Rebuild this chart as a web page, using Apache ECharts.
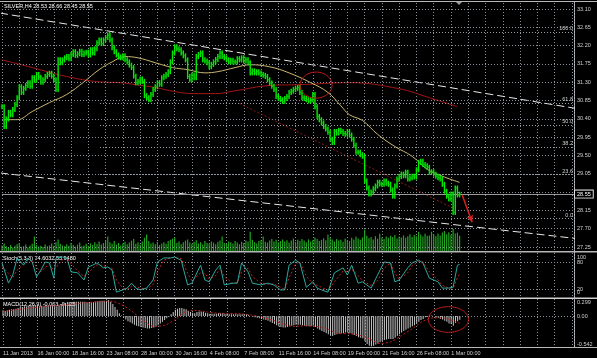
<!DOCTYPE html>
<html><head><meta charset="utf-8">
<script src="https://cdn.jsdelivr.net/npm/echarts@6/dist/echarts.min.js"></script>
<style>html,body{margin:0;padding:0;background:#000;}#c{width:597px;height:358px;}</style>
</head><body><div id="c"></div><script>
// ---- DATA ----
const closes = [
30.70,30.21,30.40,30.56,30.50,30.63,30.75,30.92,31.19,31.05,
31.15,31.22,31.29,31.20,31.41,31.35,31.49,31.42,31.30,31.36,
31.44,31.49,31.52,31.45,31.36,31.12,31.85,31.78,31.85,31.90,
31.93,31.88,31.98,32.05,31.96,32.00,32.06,31.98,32.02,32.04,
31.97,32.10,32.02,32.12,32.27,32.34,32.25,32.34,32.40,32.46,
32.34,32.15,32.05,31.97,31.92,31.90,31.95,31.85,31.80,31.72,
31.66,31.45,31.29,31.32,31.38,31.32,30.97,30.92,30.87,31.00,
31.12,31.19,31.29,31.25,31.41,31.45,31.49,31.56,31.80,32.02,
32.17,32.12,32.10,32.02,31.95,31.85,31.44,31.36,31.48,31.41,
31.93,31.98,32.02,31.85,31.82,31.78,31.68,31.74,31.80,31.86,
31.93,32.02,31.93,31.90,31.85,31.80,31.84,31.80,31.80,31.88,
31.85,31.90,31.82,31.85,31.78,31.53,31.58,31.53,31.56,31.53,
31.49,31.47,31.44,31.36,31.28,31.20,31.12,30.95,30.90,30.87,
30.83,30.90,30.95,31.05,31.08,31.12,31.15,31.17,31.05,30.92,
30.90,30.87,30.84,30.87,31.00,30.70,30.46,30.38,30.30,30.21,
30.15,30.07,29.90,29.82,30.09,30.05,30.12,30.09,30.04,30.02,
30.09,30.00,29.90,29.75,29.58,29.58,29.52,29.48,28.87,28.70,
28.55,28.60,28.68,28.75,28.84,28.80,28.79,28.87,28.82,28.79,
28.65,28.50,28.75,28.92,28.98,29.04,29.00,29.09,28.92,28.95,
28.99,28.97,29.15,29.33,29.36,29.28,29.25,29.21,29.09,29.10,
29.04,28.99,28.95,28.92,28.79,28.62,28.50,28.43,28.55,28.10,
28.70,28.53,28.55];
// tick volume, hundreds of ticks
const volumes = [
14,19,12,10,15,9,13,17,20,11, 12,16,9,14,18,36,15,11,13,10,
16,12,14,19,13,22,29,18,14,12, 17,13,20,15,11,16,21,12,14,18,
13,19,15,22,17,24,16,20,26,36, 22,18,25,16,20,14,19,23,17,21,
26,30,18,22,16,24,33,41,25,19, 21,17,23,15,19,22,18,25,28,31,
34,20,24,17,22,26,29,21,18,23, 27,19,22,16,25,20,18,24,21,17,
23,26,36,20,18,24,22,19,25,21, 17,23,20,26,24,48,28,22,19,25,
27,36,23,21,26,30,24,28,22,25, 29,24,27,21,26,31,23,28,25,30,
26,22,29,24,27,34,30,25,28,32, 27,41,33,29,24,30,26,28,23,31,
27,25,33,29,36,31,28,34,53,38, 32,35,29,37,31,43,34,30,36,33,
38,35,40,31,36,34,39,33,37,42, 35,40,37,48,41,36,43,38,39,48,
41,37,44,39,46,50,42,47,40,55, 44,46,38];
// moving averages [bar index, price]
const maFast = [[1,30.38],[7,30.38],[14,30.58],[22,30.80],[30,31.00],[38,31.31],[45,31.61],[51,31.80],[57,31.93],[63,31.90],[71,31.78],[79,31.66],[86,31.61],[94,31.53],[100,31.56],[108,31.66],[115,31.73],[124,31.68],[133,31.53],[143,31.29],[151,31.05],[157,30.72],[161,30.50],[167,30.36],[174,30.02],[182,29.72],[190,29.48],[197,29.16],[205,28.97],[212,28.84]];
const maSlow = [[0,31.85],[14,31.66],[30,31.44],[45,31.31],[55,31.29],[62,31.24],[71,31.17],[80,31.07],[89,31.02],[99,31.02],[108,31.09],[124,31.22],[138,31.24],[161,31.29],[184,31.14],[198,30.92],[211,30.70]];
const channelLine = [[110,30.78],[210,28.18]];
const upperTrend = [[-0.93,33.00],[275.7,30.57]];
const lowerTrend = [[-0.93,29.07],[275.7,27.40]];
const bidPrice = 28.55;
const fiboHigh = 32.54, fiboLow = 27.96, fiboStart = 45.4;
const fiboLevels = [0, 23.6, 38.2, 50, 61.8, 100];
const arrowPts = [[213.2,28.53],[217.8,27.86]];
const priceEllipse = [145.5, 31.23, 7.4, 0.32];
const macdEllipse = [206.7, -0.06, 9.3, 0.225];
const stochMain = [[0,78],[3,33],[5,51],[7,89],[10,73],[12,89],[14,80],[16,47],[18,62],[20,80],[22,78],[24,44],[25,89],[28,91],[30,89],[32,58],[35,56],[38,40],[40,69],[42,73],[44,78],[47,67],[49,69],[51,62],[53,13],[56,18],[58,22],[60,33],[62,22],[64,18],[67,22],[70,40],[72,80],[75,89],[78,89],[80,91],[83,84],[86,29],[88,33],[92,73],[94,40],[96,36],[99,62],[101,73],[103,29],[107,33],[109,33],[111,78],[114,58],[116,33],[120,29],[123,33],[126,29],[129,18],[131,18],[133,73],[136,84],[138,78],[141,24],[144,36],[146,22],[148,18],[151,13],[154,56],[158,67],[160,51],[162,73],[165,33],[167,36],[171,22],[174,51],[177,80],[180,78],[182,36],[184,40],[188,67],[190,78],[193,84],[195,78],[198,44],[202,36],[204,22],[207,22],[209,24],[211,73],[212,74.6]];
const stochSignal = [[0,70],[3,55],[5,45],[7,62],[10,75],[12,80],[14,84],[16,68],[18,58],[20,68],[22,74],[24,62],[25,68],[28,85],[30,90],[32,76],[35,60],[38,48],[40,56],[42,66],[44,74],[47,72],[49,68],[51,66],[53,40],[56,22],[58,19],[60,26],[62,26],[64,22],[67,20],[70,30],[72,58],[75,84],[78,89],[80,90],[83,88],[86,55],[88,38],[92,56],[94,55],[96,42],[99,50],[101,66],[103,48],[107,32],[109,34],[111,58],[114,66],[116,48],[120,32],[123,31],[126,31],[129,24],[131,19],[133,45],[136,76],[138,80],[141,48],[144,32],[146,28],[148,24],[151,17],[154,36],[158,60],[160,58],[162,64],[165,50],[167,38],[171,28],[174,38],[177,66],[180,78],[182,55],[184,42],[188,56],[190,72],[193,81],[195,80],[198,58],[202,40],[204,28],[207,22],[209,22],[211,45],[212,53.95]];
const macdHist = [
0.10,0.09,0.10,0.11,0.12,0.12,0.13,0.14,0.16,0.16,
0.17,0.17,0.18,0.18,0.19,0.19,0.19,0.18,0.18,0.18,
0.18,0.19,0.19,0.19,0.18,0.17,0.20,0.21,0.22,0.23,
0.23,0.24,0.24,0.25,0.25,0.25,0.25,0.25,0.25,0.24,
0.24,0.24,0.24,0.25,0.26,0.27,0.27,0.27,0.27,0.28,
0.25,0.21,0.16,0.11,0.05,0.01,-0.03,-0.06,-0.09,-0.11,
-0.13,-0.15,-0.17,-0.18,-0.19,-0.20,-0.21,-0.22,-0.22,-0.21,
-0.20,-0.18,-0.16,-0.13,-0.10,-0.07,-0.04,-0.01,0.03,0.07,
0.11,0.13,0.14,0.14,0.13,0.12,0.09,0.07,0.06,0.05,
0.07,0.08,0.08,0.07,0.06,0.05,0.04,0.04,0.04,0.04,
0.05,0.05,0.05,0.04,0.04,0.03,0.03,0.03,0.03,0.03,
0.03,0.03,0.03,0.03,0.02,0.00,-0.01,-0.02,-0.03,-0.04,
-0.05,-0.06,-0.07,-0.08,-0.10,-0.12,-0.14,-0.16,-0.18,-0.19,
-0.20,-0.20,-0.19,-0.18,-0.17,-0.16,-0.15,-0.15,-0.15,-0.16,
-0.17,-0.18,-0.18,-0.18,-0.17,-0.19,-0.22,-0.24,-0.26,-0.28,
-0.30,-0.32,-0.34,-0.35,-0.33,-0.32,-0.31,-0.30,-0.30,-0.29,
-0.29,-0.30,-0.31,-0.33,-0.35,-0.37,-0.38,-0.39,-0.44,-0.49,
-0.52,-0.53,-0.52,-0.50,-0.48,-0.46,-0.44,-0.42,-0.41,-0.40,
-0.40,-0.40,-0.38,-0.35,-0.32,-0.29,-0.26,-0.24,-0.22,-0.20,
-0.18,-0.16,-0.13,-0.10,-0.07,-0.05,-0.02,-0.01,0.01,0.01,
0.00,-0.02,-0.03,-0.05,-0.06,-0.08,-0.10,-0.13,-0.14,-0.17,
-0.12,-0.09,-0.063];
const macdSignal = [[0,0.08],[10,0.13],[20,0.17],[30,0.20],[40,0.24],[50,0.26],[55,0.20],[60,0.08],[65,-0.08],[70,-0.18],[75,-0.16],[80,-0.06],[85,0.08],[90,0.10],[95,0.07],[100,0.05],[110,0.04],[115,0.02],[120,-0.02],[125,-0.07],[130,-0.14],[135,-0.18],[140,-0.17],[145,-0.18],[150,-0.22],[155,-0.30],[160,-0.31],[165,-0.33],[170,-0.40],[175,-0.48],[180,-0.45],[185,-0.34],[190,-0.22],[195,-0.09],[200,-0.03],[205,-0.04],[210,-0.10],[212,-0.125]];
const timeLabels = ['11 Jan 2013','16 Jan 00:00','18 Jan 16:00','23 Jan 08:00','28 Jan 00:00','30 Jan 16:00','4 Feb 08:00','7 Feb 08:00','11 Feb 16:00','14 Feb 08:00','19 Feb 00:00','21 Feb 16:00','26 Feb 08:00','1 Mar 00:00'];
const priceTicks = [33.10,32.65,32.20,31.75,31.30,30.85,30.40,29.95,29.50,29.05,28.60,28.15,27.70,27.25];
const priceLabelTicks = [33.10,32.65,32.20,31.75,31.30,30.85,30.40,29.95,29.50,29.05,28.15,27.70,27.25];
const stochLevels = [20, 80];
const stochEdgeLabels = [[91,'100'],[13,'0']];
const stochLevelLabels = [[80,'80'],[20,'20']];
const macdLabels = [[0.245,'0.299'],[0,'0.00'],[-0.49,'-0.542']];
const titleText = 'SILVER,H4 28.53 28.66 28.45 28.55';
const stochTitle = 'Stoch(5,3,3) 74.6032 53.9480';
const macdTitle = 'MACD(12,26,9) -0.063 -0.125';

// ---- CHART ----
const FS = 5.5, FONT = 'Liberation Sans';
const labelCol = '#d0d0d0', gridCol = '#8a9099';
const barData = closes.map((c, i) => [i, i ? closes[i-1] : c, c]);
const chart = echarts.init(document.getElementById('c'), null, {devicePixelRatio: 1});

function xAxisCfg(idx, showLabels) {
  return {type:'value', gridIndex: idx, min:0, max:265, interval:8,
    axisLine:{show:false}, axisTick:{show:false},
    axisLabel: showLabels ? {show:true, hideOverlap:false, customValues: timeLabels.map((_, k) => k*16),
      formatter: v => timeLabels[Math.round(v/16)], align:'left', fontSize:FS, fontFamily:FONT, color:labelCol, margin:3} : {show:false},
    splitLine:{show:true, lineStyle:{color:gridCol, type:[1,2], width:1}}};
}
function ellipseItem(col) {
  return (params, api) => {
    const c = api.coord([api.value(0), api.value(1)]);
    const e = api.coord([api.value(0) + api.value(2), api.value(1) + api.value(3)]);
    const rx = Math.abs(e[0]-c[0]), ry = Math.abs(c[1]-e[1]);
    const pts = [];
    for (let k = 0; k < 60; k++) { const a = k/60*Math.PI*2; pts.push([c[0]+rx*Math.cos(a), c[1]+ry*Math.sin(a)]); }
    return {type:'polygon', shape:{points:pts}, style:{fill:'none', stroke:col, lineWidth:1}};
  };
}
const fiboLines = fiboLevels.map(l => {
  const p = fiboLow + (fiboHigh - fiboLow) * l / 100;
  return [{coord:[fiboStart, p]}, {coord:[265, p], label:{formatter: l.toFixed(1)}}];
});
const lab = {fontSize:FS, fontFamily:FONT, color:labelCol, margin:3, align:'left', hideOverlap:false};
function pickLabel(list, tol) { return v => (list.find(s => Math.abs(s[0]-v) < tol) || ['',''])[1]; }

chart.setOption({
  backgroundColor:'#000',
  animation:false,
  grid:[
    {left:2, top:3, width:572, height:248},
    {left:2, top:253, width:572, height:45},
    {left:2, top:299, width:572, height:48}
  ],
  xAxis:[xAxisCfg(0,false), xAxisCfg(1,false), xAxisCfg(2,true)],
  yAxis:[
    {type:'value', gridIndex:0, position:'right', min:27.152, max:33.2475, axisLine:{show:false}, axisTick:{show:false}, splitLine:{show:false},
      axisLabel:Object.assign({show:true, customValues: priceLabelTicks, formatter: v => v.toFixed(2)}, lab)},
    {type:'value', gridIndex:0, min:0, max:620, show:false},
    {type:'value', gridIndex:1, position:'right', min:0, max:100, axisLine:{show:false}, axisTick:{show:false}, splitLine:{show:false},
      axisLabel:Object.assign({show:true, customValues: stochEdgeLabels.map(s => s[0]), formatter: pickLabel(stochEdgeLabels, 0.5)}, lab)},
    {type:'value', gridIndex:2, position:'right', min:-0.542, max:0.299, axisLine:{show:false}, axisTick:{show:false}, splitLine:{show:false},
      axisLabel:Object.assign({show:true, customValues: macdLabels.map(s => s[0]), formatter: pickLabel(macdLabels, 0.01)}, lab)},
    {type:'value', gridIndex:1, position:'right', offset:0, min:0, max:100, axisLine:{show:false}, axisTick:{show:false}, splitLine:{show:false},
      axisLabel:Object.assign({show:true, customValues: stochLevelLabels.map(s => s[0]), formatter: pickLabel(stochLevelLabels, 0.5)}, lab)}
  ],
  graphic:[
    {type:'rect', shape:{x:0, y:1, width:597, height:1}, style:{fill:'#b8b8b8'}, silent:true},
    {type:'rect', shape:{x:0, y:251, width:597, height:1.5}, style:{fill:'#b8b8b8'}, silent:true},
    {type:'rect', shape:{x:0, y:297.5, width:597, height:1.5}, style:{fill:'#d0d0d0'}, silent:true},
    {type:'rect', shape:{x:0, y:347, width:597, height:1}, style:{fill:'#b8b8b8'}, silent:true},
    {type:'rect', shape:{x:574, y:1, width:1, height:347}, style:{fill:'#b8b8b8'}, silent:true},
    {type:'polygon', shape:{points:[[456,2],[462,2],[459,5]]}, style:{fill:'#9a9a9a'}, silent:true},
    {type:'text', left:4, top:3, style:{text:titleText, fill:'#ffffff', font:FS+'px '+FONT}, silent:true},
    {type:'text', left:3, top:255, style:{text:stochTitle, fill:'#ffffff', font:FS+'px '+FONT}, silent:true},
    {type:'text', left:3, top:301, style:{text:macdTitle, fill:'#ffffff', font:FS+'px '+FONT}, silent:true}
  ],
  series:[
    {type:'line', xAxisIndex:0, yAxisIndex:0, data:[], silent:true,
      markLine:{silent:true, symbol:'none', animation:false,
        lineStyle:{color:gridCol, type:[1,2], width:1}, label:{show:false},
        data: priceTicks.map(v => ({yAxis:v}))}},
    {type:'line', xAxisIndex:0, yAxisIndex:0, data:[], silent:true,
      markLine:{silent:true, symbol:'none', animation:false,
        lineStyle:{color:'#9aa0a8', type:[1,2], width:1},
        label:{show:true, position:'insideEndTop', distance:[1,0], fontSize:FS, fontFamily:FONT, color:labelCol},
        data: fiboLines}},
    {type:'bar', xAxisIndex:0, yAxisIndex:1, data: volumes.map((v,i) => [i,v]), barWidth:1.2, itemStyle:{color:'#22a322'}, silent:true},
    {type:'line', xAxisIndex:0, yAxisIndex:0, data: maSlow, smooth:0.4, showSymbol:false, lineStyle:{color:'#a31515', width:1}, silent:true},
    {type:'line', xAxisIndex:0, yAxisIndex:0, data: maFast, smooth:0.4, showSymbol:false, lineStyle:{color:'#cbb873', width:1}, silent:true},
    {type:'line', xAxisIndex:0, yAxisIndex:0, data: channelLine, showSymbol:false, lineStyle:{color:'#8a1a1a', width:1, type:[2,2]}, silent:true},
    {type:'line', xAxisIndex:0, yAxisIndex:0, data: upperTrend, clip:false, showSymbol:false, lineStyle:{color:'#e8e8e8', width:1, type:[8,4]}, silent:true},
    {type:'line', xAxisIndex:0, yAxisIndex:0, data: lowerTrend, clip:false, showSymbol:false, lineStyle:{color:'#e8e8e8', width:1, type:[8,4]}, silent:true},
    {type:'line', xAxisIndex:0, yAxisIndex:0, data:[], silent:true,
      markLine:{silent:true, symbol:'none', animation:false,
        lineStyle:{color:'#9a9a9a', type:'solid', width:1},
        label:{show:true, position:'end', distance:1, formatter: bidPrice.toFixed(2), fontSize:FS, fontFamily:FONT, color:'#ffffff', backgroundColor:'#000', borderColor:'#e0e0e0', borderWidth:1, padding:[1,2,0,2]},
        data:[{yAxis: bidPrice}]}},
    {type:'custom', xAxisIndex:0, yAxisIndex:0, data: barData, silent:true, z:5,
      renderItem:(params, api) => {
        const i = api.value(0);
        const p1 = api.coord([i, api.value(1)]), p2 = api.coord([i, api.value(2)]);
        const x = p1[0];
        const top = Math.min(p1[1], p2[1]) - 2.5, bot = Math.max(p1[1], p2[1]) + 2.5;
        const st = {stroke:'#00f000', lineWidth:1.4};
        const st2 = {stroke:'#00c800', lineWidth:1};
        return {type:'group', children:[
          {type:'line', shape:{x1:x, y1:top, x2:x, y2:bot}, style:st},
          {type:'line', shape:{x1:x-1.2, y1:p1[1], x2:x, y2:p1[1]}, style:st2},
          {type:'line', shape:{x1:x, y1:p2[1], x2:x+1.2, y2:p2[1]}, style:st2}
        ]};
      }},
    {type:'custom', xAxisIndex:0, yAxisIndex:0, data:[priceEllipse], renderItem: ellipseItem('#c01c1c'), silent:true, z:6},
    {type:'line', xAxisIndex:0, yAxisIndex:0, data:[], silent:true, z:7,
      markLine:{silent:true, animation:false, symbol:['none','arrow'], symbolSize:[5,7],
        lineStyle:{color:'#e01e1e', width:1.5, type:'solid'}, label:{show:false},
        data:[[{coord: arrowPts[0]}, {coord: arrowPts[1]}]]}},
    {type:'line', xAxisIndex:1, yAxisIndex:2, data:[], silent:true,
      markLine:{silent:true, symbol:'none', animation:false, lineStyle:{color:gridCol, type:[1,2], width:1}, label:{show:false},
        data: stochLevels.map(v => ({yAxis:v}))}},
    {type:'line', xAxisIndex:1, yAxisIndex:2, data: stochSignal, showSymbol:false, lineStyle:{color:'#c42020', width:1, type:[2,2]}, silent:true},
    {type:'line', xAxisIndex:1, yAxisIndex:2, data: stochMain, showSymbol:false, lineStyle:{color:'#2aa89f', width:1}, silent:true},
    {type:'line', xAxisIndex:2, yAxisIndex:3, data:[], silent:true,
      markLine:{silent:true, symbol:'none', animation:false, lineStyle:{color:gridCol, type:[1,2], width:1}, label:{show:false},
        data:[{yAxis:0}]}},
    {type:'bar', xAxisIndex:2, yAxisIndex:3, data: macdHist.map((v,i) => [i,v]), barWidth:1, itemStyle:{color:'#c8c8c8'}, silent:true},
    {type:'line', xAxisIndex:2, yAxisIndex:3, data: macdSignal, smooth:0.3, showSymbol:false, lineStyle:{color:'#c42020', width:1, type:[2,2]}, silent:true},
    {type:'custom', xAxisIndex:2, yAxisIndex:3, data:[macdEllipse], renderItem: ellipseItem('#c01c1c'), silent:true, z:6}
  ]
});
</script></body></html>
